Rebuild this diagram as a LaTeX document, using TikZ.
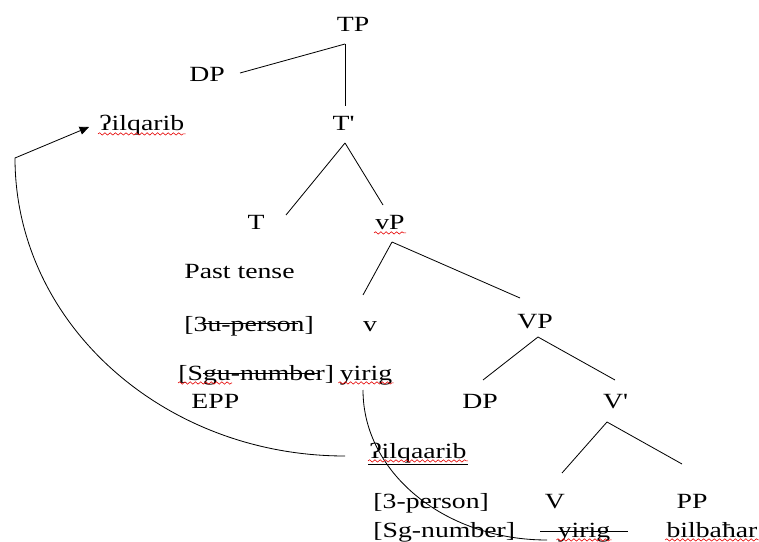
\documentclass[tikz,border=0pt]{standalone}
\usepackage{fontspec}
\setmainfont{Liberation Serif}[FakeStretch=1.28]
\usetikzlibrary{arrows.meta, decorations.pathmorphing}

\tikzset{
  branch/.style={line width=0.7pt},
  strike/.style={line width=0.6pt},
  squiggle/.style={draw=red!90!black, line width=0.5pt, decorate,
    decoration={snake, amplitude=1pt, segment length=4.5pt}}
}

\begin{document}
\begin{tikzpicture}[x=0.03cm, y=-0.03cm,
    every node/.style={font=\fontsize{18.5}{22}\selectfont, anchor=base, inner sep=1pt}]
  \useasboundingbox (0,0) rectangle (759,542);
  % TP and T'
  \node (tp) at (353,32) {TP};
  \node (dpspec) at (207,82) {DP};
  \node[anchor=base west] (ilqarib) at (98,131) {ʔilqarib};
  \node (tbar) at (343,131) {T\textquotesingle};
  \node (t) at (256,230) {T};
  \node (vp) at (390,230) {vP};
  % features on T and v
  \node[anchor=base west] (past) at (183,279) {Past tense};
  \node[anchor=base west] (person) at (183,331) {[3u-person]};
  \node (vhead) at (370,331) {v};
  \node[anchor=base west] (number) at (177,380) {[Sgu-number]};
  \node (yirigv) at (366,380) {yirig};
  \node[anchor=base west] (epp) at (190,408) {EPP};
  % VP and V'
  \node (bigvp) at (535,328) {VP};
  \node (dpobj) at (480,408) {DP};
  \node (vbar) at (615,408) {V\textquotesingle};
  \node[anchor=base west] (trace) at (368,458) {ʔilqaarib};
  \node[anchor=base west] (person3) at (372,508) {[3-person]};
  \node (vlow) at (555,508) {V};
  \node (pp) at (692,508) {PP};
  \node[anchor=base west] (number3) at (372,537) {[Sg-number]};
  \node (yirigtrace) at (584,537) {yirig};
  \node (bilbahar) at (712,537) {bilbaħar};

  % branches
  \draw[branch] ([shift={(-8,12)}]tp.base) -- ([shift={(33,-9)}]dpspec.base);
  \draw[branch] ([shift={(-8,12)}]tp.base) -- ([shift={(2,-25)}]tbar.base);
  \draw[branch] ([shift={(2,12)}]tbar.base) -- ([shift={(30,-15)}]t.base);
  \draw[branch] ([shift={(2,12)}]tbar.base) -- ([shift={(-7,-25)}]vp.base);
  \draw[branch] ([shift={(2,12)}]vp.base) -- ([shift={(-7,-36)}]vhead.base);
  \draw[branch] ([shift={(2,12)}]vp.base) -- ([shift={(-15,-30)}]bigvp.base);
  \draw[branch] ([shift={(3,9)}]bigvp.base) -- ([shift={(3,-28)}]dpobj.base);
  \draw[branch] ([shift={(3,9)}]bigvp.base) -- ([shift={(0,-28)}]vbar.base);
  \draw[branch] ([shift={(-8,14)}]vbar.base) -- ([shift={(7,-35)}]vlow.base);
  \draw[branch] ([shift={(-8,14)}]vbar.base) -- ([shift={(-10,-44)}]pp.base);

  % movement of the subject
  \coordinate (bend) at (15,158);
  \draw[branch, -{Triangle[length=8pt, width=7pt]}] ([shift={(-23,-2)}]trace.base west)
    .. controls (163,456) and (15,323) .. (bend)
    -- ([shift={(-9,-4)}]ilqarib.base west);
  % movement of the verb
  \draw[branch] ([shift={(-3,10)}]yirigv.base)
    .. controls (363,473) and (445,540) .. ([shift={(-37,3)}]yirigtrace.base);

  % struck-out parts
  \draw[strike] ([shift={(20,-8)}]person.base west) -- ([shift={(115,-8)}]person.base west);
  \draw[strike] ([shift={(26,-7)}]number.base west) -- ([shift={(141,-7)}]number.base west);
  \draw[strike] ([yshift=-5pt]trace.base west) -- ([yshift=-5pt]trace.base east);
  \draw[strike] ([shift={(-44,-6)}]yirigtrace.base) -- ([shift={(44,-6)}]yirigtrace.base);

  % spell-check marks
  \foreach \n in {ilqarib, vp, yirigv, trace, yirigtrace, bilbahar}
    \draw[squiggle] ([yshift=-2.5pt]\n.base west) -- ([yshift=-2.5pt]\n.base east);
  \draw[squiggle] ([shift={(1,3)}]number.base west) -- ++(54,0);
\end{tikzpicture}
\end{document}
